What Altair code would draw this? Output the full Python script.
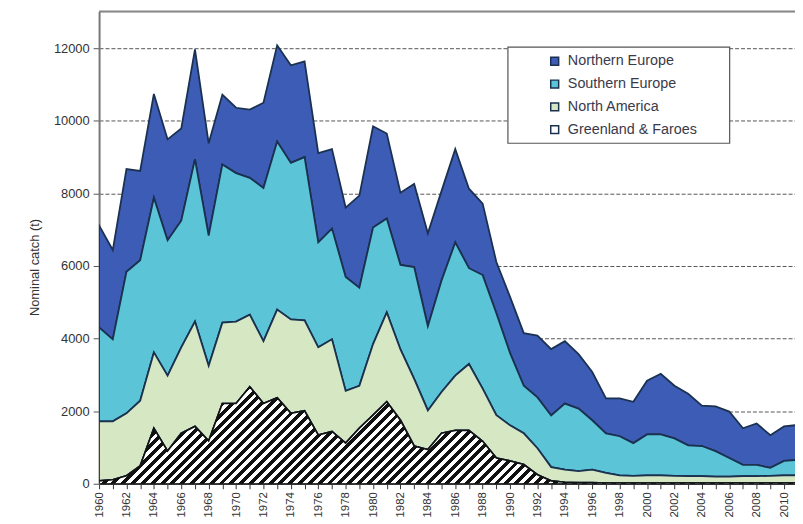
import math
import altair as alt
import pandas as pd

# ---------------- data ----------------
years = list(range(1960, 2012))

northern_europe = [2810, 2460, 2830, 2460, 2860, 2780, 2540, 3030, 2540, 1920,
                   1800, 1880, 2350, 2650, 2690, 2640, 2460, 2190, 1910, 2540,
                   2790, 2340, 1990, 2290, 2560, 2470, 2570, 2190, 1970, 1410,
                   1550, 1450, 1700, 1830, 1720, 1500, 1330, 960, 1040, 1140,
                   1480, 1670, 1450, 1420, 1110, 1230, 1280, 1010, 1140, 900,
                   950, 960]
southern_europe = [2590, 2260, 3900, 3870, 4260, 3730, 3490, 4470, 3590, 4360,
                   4090, 3770, 4220, 4630, 4310, 4500, 2890, 3050, 3140, 2700,
                   3210, 2590, 2330, 3080, 2320, 3070, 3670, 2640, 3130, 2810,
                   1990, 1310, 1400, 1420, 1820, 1720, 1360, 1090, 1080, 900,
                   1130, 1130, 1030, 850, 830, 700, 510, 310, 310, 220,
                   400, 430]
north_america = [1640, 1610, 1720, 1800, 2090, 2080, 2370, 2890, 2070, 2230,
                 2260, 1990, 1720, 2430, 2590, 2490, 2420, 2540, 1440, 1170,
                 1960, 2460, 1950, 1850, 1080, 1140, 1510, 1830, 1450, 1180,
                 980, 860, 730, 380, 350, 320, 360, 280, 210, 200,
                 210, 210, 200, 190, 190, 180, 180, 190, 190, 200,
                 210, 210]
greenland_faroes = [80, 110, 220, 490, 1530, 900, 1390, 1580, 1180, 2210,
                    2210, 2670, 2210, 2370, 1940, 2010, 1340, 1440, 1120, 1530,
                    1890, 2260, 1750, 1040, 940, 1390, 1470, 1470, 1170, 710,
                    630, 530, 250, 80, 40, 30, 30, 20, 20, 20,
                    20, 20, 20, 20, 20, 20, 20, 20, 20, 20,
                    20, 20]

series_names = ["Northern Europe", "Southern Europe", "North America", "Greenland & Faroes"]
series_colors = ["#3C5CB5", "#5CC4D7", "#D6E7C3", "#FFFFFF"]
series_lists = [northern_europe, southern_europe, north_america, greenland_faroes]
stack_rank = [3, 2, 1, 0]  # bottom of the stack = 0

y_ticks = [0, 2000, 4000, 6000, 8000, 10000, 12000]
x_ticks = list(range(1960, 2011))

rows = []
for name, vals, rank in zip(series_names, series_lists, stack_rank):
    for yr, v in zip(years, vals):
        rows.append({"year": yr, "series": name, "catch": v, "rank": rank})
df = pd.DataFrame(rows)

# ---------------- layout ----------------
W, H = 703, 477
X_MAX = 2010.8
Y_MAX = 13010
FONT = "Liberation Sans"
EDGE = "#1B3150"
TEXT = "#333333"

x_scale = alt.Scale(domain=[1960, X_MAX], nice=False, zero=False)
y_scale = alt.Scale(domain=[0, Y_MAX], nice=False)

x_axis = alt.Axis(values=x_ticks, title=None,
                  labelExpr="datum.value % 2 === 0 ? '' + datum.value : ''",
                  labelAngle=270, labelAlign="right", labelBaseline="middle",
                  labelFontSize=11.5, labelColor=TEXT, labelPadding=3,
                  labelFont=FONT, labelOverlap=False, labelFlush=False,
                  tickSize=5, tickColor=TEXT, domainColor=TEXT,
                  domainWidth=1.5, grid=False)
y_axis = alt.Axis(values=y_ticks, format="d", title="Nominal catch (t)",
                  titleFont=FONT, titleFontSize=13, titleFontWeight="normal",
                  titleColor=TEXT, titleAngle=270, titleAlign="center",
                  titleBaseline="middle", titleX=-65, titleY=258,
                  labelFont=FONT, labelFontSize=13, labelColor=TEXT,
                  labelPadding=4, tickSize=6, tickColor="#555555",
                  domainColor="#777777", domainWidth=2,
                  grid=True, gridColor="#555555", gridDash=[4, 2], gridWidth=1)

# hatch fill for the bottom band: a hard-stop linear gradient (45 degree stripes)
px_per_year = W / (X_MAX - 1960)
bw = (years[-1] - years[0]) * px_per_year
bh = max(greenland_faroes) * H / Y_MAX
k = (1 / bh + 1 / bw) / (1 / bh ** 2 + 1 / bw ** 2)
span = (bw + bh) / math.sqrt(2)
period = 7.0
n = int(round(span / period))
stops = []
for i in range(n):
    a, b, c = i / n, (i + 0.5) / n, (i + 1) / n
    stops += [alt.GradientStop(color="#111111", offset=a),
              alt.GradientStop(color="#111111", offset=b),
              alt.GradientStop(color="#FFFFFF", offset=b),
              alt.GradientStop(color="#FFFFFF", offset=c)]
hatch = alt.Gradient(gradient="linear", stops=stops,
                     x1=0, y1=0, x2=k / bh, y2=k / bw)

base = alt.Chart(df)

areas = base.transform_stack(
    stack="catch", as_=["y0", "y1"], groupby=["year"],
    sort=[alt.SortField("rank", order="ascending")]
).mark_area(stroke=EDGE, strokeWidth=1.8, clip=True).encode(
    x=alt.X("year:Q", scale=x_scale, axis=x_axis),
    y=alt.Y("y1:Q", scale=y_scale, axis=y_axis),
    y2="y0:Q",
    color=alt.Color("series:N",
                    scale=alt.Scale(domain=series_names, range=series_colors),
                    legend=alt.Legend(
                        title=None, orient="none", legendX=453, legendY=43,
                        padding=0, zindex=1,
                        symbolType="square", symbolSize=64,
                        symbolStrokeColor=EDGE, symbolStrokeWidth=1.5,
                        labelOffset=6,
                        labelFont=FONT, labelFontSize=14.5, labelColor="#3A3A4A",
                        rowPadding=7)),
)

hatched = base.transform_filter(
    alt.datum.series == "Greenland & Faroes"
).mark_area(fill=hatch, stroke="#111111", strokeWidth=1.6, clip=True).encode(
    x=alt.X("year:Q", scale=x_scale, axis=x_axis),
    y=alt.Y("catch:Q", scale=y_scale, axis=y_axis, stack=None),
)

one = pd.DataFrame({"v": [0]})
legend_box = alt.Chart(one).mark_rect(
    fill="white", stroke="#555555", strokeWidth=1.2
).encode(x=alt.value(413), x2=alt.value(637), y=alt.value(36), y2=alt.value(133))

top_rule = alt.Chart(one).mark_rule(
    color="#888888", strokeWidth=2
).encode(x=alt.value(0), x2=alt.value(W), y=alt.value(0))

chart = alt.layer(areas, hatched, legend_box, top_rule).properties(
    width=W, height=H,
    autosize=alt.AutoSizeParams(type="none"),
    padding={"left": 92, "top": 1, "right": 0, "bottom": 36},
).configure_view(stroke=None).configure(background="white")

chart.save("out.html", embed_options={"renderer": "svg", "actions": False})
